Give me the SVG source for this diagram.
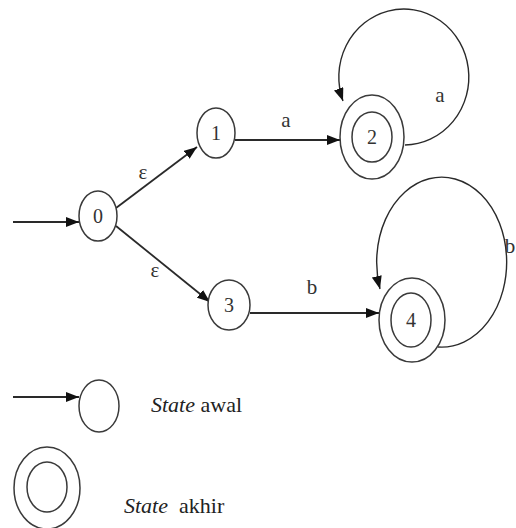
<svg xmlns="http://www.w3.org/2000/svg" width="516" height="528" viewBox="0 0 516 528">
<defs>
<marker id="arr" markerUnits="userSpaceOnUse" markerWidth="14" markerHeight="10" refX="13" refY="5" orient="auto">
<path d="M0,0 L13,5 L0,10 Z" fill="#111"/>
</marker>
<style>
.st{fill:#fff;stroke:#3a3a3a;stroke-width:1.5}
.ed{fill:none;stroke:#2a2a2a;stroke-width:1.8;marker-end:url(#arr)}
.lp{fill:none;stroke:#2a2a2a;stroke-width:1.4;marker-end:url(#arr)}
text{font-family:"Times New Roman","Liberation Serif","DejaVu Serif",serif}
.nl{font-size:20px;fill:#333;text-anchor:middle}
.el{font-size:21px;fill:#333;text-anchor:middle}
.lg{font-size:22px;fill:#222}
</style>
</defs>
<rect width="516" height="528" fill="#fff"/>
<g id="connectors">
<line class="ed" x1="13" y1="222" x2="79" y2="222"/>
<line class="ed" x1="116" y1="208" x2="197" y2="147"/>
<line class="ed" x1="116" y1="226" x2="210" y2="302"/>
<line class="ed" x1="235" y1="140" x2="340" y2="140"/>
<line class="ed" x1="250" y1="313" x2="379" y2="313"/>
<path class="lp" d="M405,145 A65,68 0 1 0 343,101"/>
<path class="lp" d="M438,347 A65,85 0 1 0 380,289"/>
<text class="el" x="143" y="179">ε</text>
<text class="el" x="155" y="277">ε</text>
<text class="el" x="286" y="127">a</text>
<text class="el" x="440" y="102">a</text>
<text class="el" x="312" y="294">b</text>
<text class="el" x="510" y="253">b</text>
</g>
<g id="n0">
<ellipse class="st" cx="98" cy="216" rx="19" ry="25"/>
<text class="nl" x="98" y="223">0</text>
</g>
<g id="n1">
<ellipse class="st" cx="216" cy="133" rx="19" ry="25"/>
<text class="nl" x="216" y="140">1</text>
</g>
<g id="n2">
<ellipse class="st" cx="372" cy="137" rx="32" ry="42"/>
<ellipse class="st" cx="372" cy="137" rx="20" ry="25"/>
<text class="nl" x="372" y="144">2</text>
</g>
<g id="n3">
<ellipse class="st" cx="229" cy="305" rx="21" ry="25"/>
<text class="nl" x="229" y="312">3</text>
</g>
<g id="n4">
<ellipse class="st" cx="412" cy="320" rx="33" ry="42"/>
<ellipse class="st" cx="411" cy="320" rx="20" ry="27"/>
<text class="nl" x="411" y="327">4</text>
</g>
<g id="legend-start">
<line class="ed" x1="13" y1="397" x2="79" y2="397"/>
<ellipse class="st" cx="99" cy="406" rx="20" ry="26"/>
<text class="lg" x="151" y="412"><tspan font-style="italic">State</tspan> awal</text>
</g>
<g id="legend-final">
<ellipse class="st" cx="47" cy="488" rx="33" ry="41"/>
<ellipse class="st" cx="47" cy="487" rx="20" ry="25"/>
<text class="lg" x="124" y="513" xml:space="preserve"><tspan font-style="italic">State</tspan>  akhir</text>
</g>
</svg>
